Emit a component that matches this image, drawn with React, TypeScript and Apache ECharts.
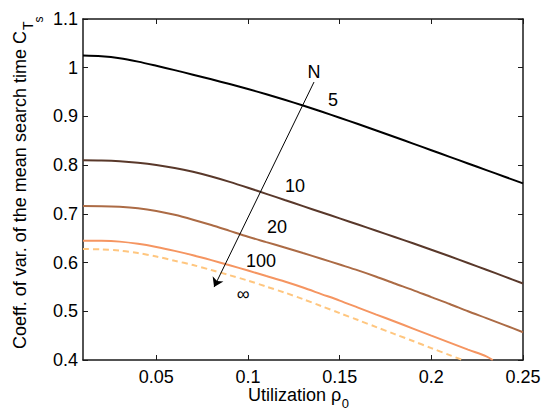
import React, { useEffect, useRef } from "react";
import * as echarts from "echarts";

// utilization rho_0
const rho = [0.01, 0.02, 0.03, 0.04, 0.05, 0.06, 0.07, 0.08, 0.09, 0.1, 0.11, 0.12, 0.13, 0.14, 0.15, 0.16, 0.17, 0.18, 0.19, 0.2, 0.21, 0.22, 0.23, 0.24, 0.25];
// coefficient of variation of the mean search time, per N
const ctsN5 = [1.025, 1.0235, 1.0195, 1.0125, 1.004, 0.995, 0.9857, 0.9762, 0.9664, 0.9562, 0.9455, 0.9342, 0.9224, 0.9101, 0.8974, 0.8844, 0.8712, 0.8578, 0.8442, 0.8306, 0.817, 0.8034, 0.7898, 0.7762, 0.7626];
const ctsN10 = [0.81, 0.8095, 0.808, 0.805, 0.8005, 0.7943, 0.7863, 0.7766, 0.7656, 0.7536, 0.7411, 0.7285, 0.7159, 0.7033, 0.6907, 0.6781, 0.6654, 0.6526, 0.6396, 0.6264, 0.6129, 0.5992, 0.5853, 0.5712, 0.557];
const ctsN20 = [0.716, 0.7158, 0.7145, 0.7115, 0.706, 0.698, 0.688, 0.677, 0.665, 0.653, 0.642, 0.631, 0.6195, 0.608, 0.596, 0.584, 0.571, 0.557, 0.5435, 0.529, 0.515, 0.5, 0.486, 0.4717, 0.457];
const rhoN100 = [0.01, 0.02, 0.03, 0.04, 0.05, 0.06, 0.07, 0.08, 0.09, 0.1, 0.11, 0.12, 0.13, 0.14, 0.15, 0.16, 0.17, 0.18, 0.19, 0.2, 0.21, 0.22, 0.23, 0.2335];
const ctsN100 = [0.645, 0.6448, 0.643, 0.6385, 0.632, 0.624, 0.615, 0.605, 0.5945, 0.5836, 0.5723, 0.561, 0.5487, 0.5353, 0.522, 0.5076, 0.4932, 0.479, 0.4645, 0.45, 0.4357, 0.4213, 0.4075, 0.4];
const rhoInf = [0.01, 0.02, 0.03, 0.04, 0.05, 0.06, 0.07, 0.08, 0.09, 0.1, 0.11, 0.12, 0.13, 0.14, 0.15, 0.16, 0.17, 0.18, 0.19, 0.2, 0.21, 0.217];
const ctsInf = [0.628, 0.627, 0.6245, 0.6195, 0.6125, 0.6037, 0.595, 0.5846, 0.574, 0.563, 0.5507, 0.5384, 0.525, 0.5107, 0.4963, 0.482, 0.4676, 0.4532, 0.439, 0.4244, 0.41, 0.4];

const xTicks = [0.05, 0.1, 0.15, 0.2, 0.25];

// annotation labels and their (rho, cts) positions
const annLabels = ["N", "5", "10", "20", "100", "\u221e"];
const annRho = [0.136, 0.1464, 0.1257, 0.1158, 0.1071, 0.0973];
const annCts = [0.9918, 0.9337, 0.757, 0.673, 0.603, 0.5353];
// arrow from / to (rho, cts)
const arrowFrom = [0.136, 0.9706];
const arrowTo = [0.0815, 0.5497];

const FONT = "'Liberation Sans', Arial, Helvetica, sans-serif";

const zip = (xs: number[], ys: number[]) => xs.map((x, i) => [x, ys[i]]);

function measure(text: string, size: number) {
  const c = document.createElement("canvas").getContext("2d")!;
  c.font = `${size}px ${FONT}`;
  return c.measureText(text).width;
}

export default function App() {
  const ref = useRef<HTMLDivElement>(null);
  useEffect(() => {
    document.body.style.margin = "0";
    const chart = echarts.init(ref.current!, null, { renderer: "svg" });
    const axisLine = { show: true, lineStyle: { color: "#1a1a1a", width: 1.5 } };
    const line = (data: number[][], color: string, dashed = false) => ({
      type: "line",
      data,
      symbol: "none",
      smooth: 0.3,
      clip: true,
      lineStyle: { color, width: 2, type: dashed ? [6, 4] : "solid" },
      z: 3,
    });

    const yMain = "Coeff. of var. of the mean search time C";
    const yW = measure(yMain, 18);
    const yCenter = 190;
    const yTop = yCenter - yW / 2;
    const xMain = "Utilization \u03c1";
    const xW = measure(xMain, 18);
    const xLeft = 248;

    chart.setOption({
      animation: false,
      grid: { left: 83, right: 21, top: 19, bottom: 49, containLabel: false },
      xAxis: [
        {
          type: "value",
          min: 0.01,
          max: 0.25,
          position: "bottom",
          axisLine,
          splitLine: { show: false },
          axisTick: { show: true, inside: true, length: 5, customValues: xTicks, lineStyle: { color: "#1a1a1a" } },
          axisLabel: { customValues: xTicks, fontSize: 18, color: "#000", fontFamily: FONT, margin: 8 },
        },
        {
          type: "value",
          min: 0.01,
          max: 0.25,
          position: "top",
          axisLine,
          splitLine: { show: false },
          axisTick: { show: true, inside: true, length: 5, customValues: xTicks, lineStyle: { color: "#1a1a1a" } },
          axisLabel: { show: false },
        },
      ],
      yAxis: [
        {
          type: "value",
          min: 0.4,
          max: 1.1,
          interval: 0.1,
          position: "left",
          axisLine,
          splitLine: { show: false },
          axisTick: { show: true, inside: true, length: 5, lineStyle: { color: "#1a1a1a" } },
          axisLabel: { fontSize: 18, color: "#000", fontFamily: FONT, margin: 5 },
        },
        {
          type: "value",
          min: 0.4,
          max: 1.1,
          interval: 0.1,
          position: "right",
          axisLine,
          splitLine: { show: false },
          axisTick: { show: true, inside: true, length: 5, lineStyle: { color: "#1a1a1a" } },
          axisLabel: { show: false },
        },
      ],
      series: [
        {
          ...line(zip(rho, ctsN5), "#000000"),
          markPoint: {
            symbol: "circle",
            symbolSize: 0,
            label: { show: true, position: "inside", formatter: "{b}", fontSize: 18, color: "#000", fontFamily: FONT },
            data: annLabels.map((name, i) => ({ name, coord: [annRho[i], annCts[i]] })),
          },
          markLine: {
            silent: true,
            symbol: ["none", "arrow"],
            symbolSize: 9,
            label: { show: false },
            lineStyle: { color: "#000", width: 1, type: "solid" },
            itemStyle: { color: "#000" },
            data: [[{ coord: arrowFrom }, { coord: arrowTo }]],
          },
        },
        line(zip(rho, ctsN10), "#59382a"),
        line(zip(rho, ctsN20), "#ac6b45"),
        line(zip(rhoN100, ctsN100), "#f59561"),
        line(zip(rhoInf, ctsInf), "#ffc67f", true),
      ],
      graphic: [
        {
          type: "text",
          x: 20,
          y: yCenter,
          rotation: Math.PI / 2,
          style: { text: yMain, fontSize: 18, fontFamily: FONT, fill: "#000", align: "center", verticalAlign: "middle" },
        },
        {
          type: "text",
          x: 28,
          y: yTop - 1,
          rotation: Math.PI / 2,
          style: { text: "T", fontSize: 14, fontFamily: FONT, fill: "#000", align: "left", verticalAlign: "middle" },
        },
        {
          type: "text",
          x: 39,
          y: yTop - 1 - measure("T", 14) + 1,
          rotation: Math.PI / 2,
          style: { text: "s", fontSize: 12, fontFamily: FONT, fill: "#000", align: "left", verticalAlign: "middle" },
        },
        {
          type: "text",
          x: xLeft,
          y: 395,
          style: { text: xMain, fontSize: 18, fontFamily: FONT, fill: "#000", align: "left", verticalAlign: "middle" },
        },
        {
          type: "text",
          x: xLeft + xW + 0.5,
          y: 403,
          style: { text: "0", fontSize: 13, fontFamily: FONT, fill: "#000", align: "left", verticalAlign: "middle" },
        },
      ],
    });
    return () => chart.dispose();
  }, []);
  return <div ref={ref} style={{ position: "fixed", left: 0, top: 0, width: 544, height: 409, background: "#fff" }} />;
}
